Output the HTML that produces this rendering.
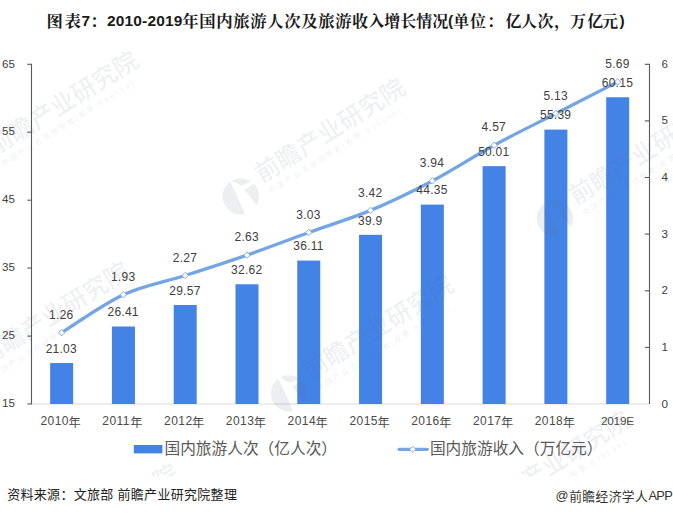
<!DOCTYPE html>
<html lang="zh-CN">
<head>
<meta charset="utf-8">
<title>图表7：2010-2019年国内旅游人次及旅游收入增长情况</title>
<style>
html,body{margin:0;padding:0;background:#fff;}
body{width:673px;height:516px;position:relative;overflow:hidden;font-family:"Liberation Sans",sans-serif;}
#chart{position:absolute;left:0;top:0;width:673px;height:516px;overflow:hidden;background:#fff;}
#chart svg{position:absolute;left:0;top:0;}
#chart span{position:absolute;white-space:nowrap;font-family:"Liberation Sans",sans-serif;}
.ax{font-size:11.6px;line-height:15px;color:#404040;}
.dl{font-size:12px;line-height:14px;color:#404040;width:60px;text-align:center;letter-spacing:0.27px;text-indent:0.27px;}
.xl{font-size:12px;line-height:14px;color:#4a4a4a;}
.ft{font-size:12.8px;line-height:15px;color:#333;}
.tt{font-size:15.5px;line-height:18px;font-weight:bold;color:#1a1a1a;}
svg text{font-family:"Liberation Sans","Noto Sans CJK SC",sans-serif;}
svg text.ttl{font-family:"Liberation Serif","Noto Serif CJK SC",serif;font-weight:bold;}
</style>
</head>
<body>
<div id="chart">
<svg width="673" height="516" viewBox="0 0 673 516">
<defs><g id="wmt"><text x="24.8" y="0" font-size="24.5" font-weight="500">前瞻产业研究院</text><text x="26.5" y="13.8" font-size="7.6" letter-spacing="2">中国产业咨询领导者(股票:839599)</text></g><g id="wml"><g clip-path="url(#lgc)"><path d="M-20 -20L-12 -20L-10.9 -15.1L-3.8 -1L4.2 18.1L4.2 20L-20 20Z"/><path d="M-9.6 -20L-9.6 -16.2L0.9 -10.6L11 -15.4L11 -20Z"/><path d="M3.6 -6.7L12.6 -12.7L20 -12.7L20 9L15.8 8.6Z"/></g></g><clipPath id="lgc"><circle cx="0" cy="0" r="18.2"/></clipPath><clipPath id="wmclip"><rect x="0" y="40" width="673" height="436.5"/></clipPath></defs>
<g id="plot">
<line x1="31.5" y1="404.0" x2="649.5" y2="404.0" stroke="#D9D9D9" stroke-width="1"/>
<rect x="50.15" y="363.03" width="23.00" height="40.97" fill="#4383E6"/>
<rect x="111.93" y="326.48" width="23.00" height="77.52" fill="#4383E6"/>
<rect x="173.71" y="305.01" width="23.00" height="98.99" fill="#4383E6"/>
<rect x="235.49" y="284.29" width="23.00" height="119.71" fill="#4383E6"/>
<rect x="297.27" y="260.58" width="23.00" height="143.42" fill="#4383E6"/>
<rect x="359.05" y="234.83" width="23.00" height="169.17" fill="#4383E6"/>
<rect x="420.83" y="204.60" width="23.00" height="199.40" fill="#4383E6"/>
<rect x="482.61" y="166.14" width="23.00" height="237.86" fill="#4383E6"/>
<rect x="544.39" y="129.59" width="23.00" height="274.41" fill="#4383E6"/>
<rect x="606.17" y="97.25" width="23.00" height="306.75" fill="#4383E6"/>
<path d="M31.5 64.3V404.0" stroke="#595959" stroke-width="1.1" fill="none"/>
<path d="M649.5 64.3V404.0" stroke="#595959" stroke-width="1.1" fill="none"/>
<path d="M27.3 64.3H32.0" stroke="#595959" stroke-width="1.1"/>
<path d="M27.3 132.2H32.0" stroke="#595959" stroke-width="1.1"/>
<path d="M27.3 200.2H32.0" stroke="#595959" stroke-width="1.1"/>
<path d="M27.3 268.1H32.0" stroke="#595959" stroke-width="1.1"/>
<path d="M27.3 336.1H32.0" stroke="#595959" stroke-width="1.1"/>
<path d="M27.3 404.0H32.0" stroke="#595959" stroke-width="1.1"/>
<path d="M644.8 64.3H650.0" stroke="#595959" stroke-width="1.1"/>
<path d="M644.8 120.9H650.0" stroke="#595959" stroke-width="1.1"/>
<path d="M644.8 177.5H650.0" stroke="#595959" stroke-width="1.1"/>
<path d="M644.8 234.1H650.0" stroke="#595959" stroke-width="1.1"/>
<path d="M644.8 290.8H650.0" stroke="#595959" stroke-width="1.1"/>
<path d="M644.8 347.4H650.0" stroke="#595959" stroke-width="1.1"/>
<path d="M61.65 332.66C71.95 326.34 102.84 304.26 123.43 294.73C144.02 285.20 164.62 282.09 185.21 275.48C205.80 268.87 226.40 262.27 246.99 255.10C267.58 247.93 288.18 239.91 308.77 232.45C329.36 225.00 349.96 218.96 370.55 210.37C391.14 201.78 411.74 191.78 432.33 180.93C452.92 170.08 473.52 156.49 494.11 145.26C514.70 134.03 535.30 124.12 555.89 113.56C576.48 102.99 607.37 87.14 617.67 81.85" stroke="#74A6E4" stroke-width="3.3" fill="none" stroke-linecap="round" stroke-linejoin="round"/>
<path d="M61.65 329.46L64.85 332.66L61.65 335.86L58.45 332.66Z" fill="#fff" stroke="#74A6E4" stroke-width="0.9"/>
<path d="M123.43 291.53L126.63 294.73L123.43 297.93L120.23 294.73Z" fill="#fff" stroke="#74A6E4" stroke-width="0.9"/>
<path d="M185.21 272.28L188.41 275.48L185.21 278.68L182.01 275.48Z" fill="#fff" stroke="#74A6E4" stroke-width="0.9"/>
<path d="M246.99 251.90L250.19 255.10L246.99 258.30L243.79 255.10Z" fill="#fff" stroke="#74A6E4" stroke-width="0.9"/>
<path d="M308.77 229.25L311.97 232.45L308.77 235.65L305.57 232.45Z" fill="#fff" stroke="#74A6E4" stroke-width="0.9"/>
<path d="M370.55 207.17L373.75 210.37L370.55 213.57L367.35 210.37Z" fill="#fff" stroke="#74A6E4" stroke-width="0.9"/>
<path d="M432.33 177.73L435.53 180.93L432.33 184.13L429.13 180.93Z" fill="#fff" stroke="#74A6E4" stroke-width="0.9"/>
<path d="M494.11 142.06L497.31 145.26L494.11 148.46L490.91 145.26Z" fill="#fff" stroke="#74A6E4" stroke-width="0.9"/>
<path d="M555.89 110.36L559.09 113.56L555.89 116.76L552.69 113.56Z" fill="#fff" stroke="#74A6E4" stroke-width="0.9"/>
<path d="M617.67 78.65L620.87 81.85L617.67 85.05L614.47 81.85Z" fill="#fff" stroke="#74A6E4" stroke-width="0.9"/>
<rect x="133.8" y="445" width="28.6" height="8.4" fill="#4383E6"/>
<path d="M399.1 449.3H427.3" stroke="#74A6E4" stroke-width="3.2" stroke-linecap="round"/>
<path d="M412.70 446.10L415.90 449.30L412.70 452.50L409.50 449.30Z" fill="#fff" stroke="#74A6E4" stroke-width="0.9"/>
</g>
<g id="cjk" fill="#404040">
<text x="68.50" y="426.6" font-size="12.2" fill="#4a4a4a">年</text>
<text x="130.28" y="426.6" font-size="12.2" fill="#4a4a4a">年</text>
<text x="192.06" y="426.6" font-size="12.2" fill="#4a4a4a">年</text>
<text x="253.84" y="426.6" font-size="12.2" fill="#4a4a4a">年</text>
<text x="315.62" y="426.6" font-size="12.2" fill="#4a4a4a">年</text>
<text x="377.40" y="426.6" font-size="12.2" fill="#4a4a4a">年</text>
<text x="439.18" y="426.6" font-size="12.2" fill="#4a4a4a">年</text>
<text x="500.96" y="426.6" font-size="12.2" fill="#4a4a4a">年</text>
<text x="562.74" y="426.6" font-size="12.2" fill="#4a4a4a">年</text>
<text x="164.5" y="454.4" font-size="15.7" fill="#595959">国内旅游人次（亿人次）</text>
<text x="429.9" y="454.4" font-size="15.7" fill="#595959">国内旅游收入（万亿元）</text>
<text x="7.2" y="499.4" font-size="13" letter-spacing="0.3" fill="#222">资料来源：文旅部 前瞻产业研究院整理</text>
<text x="569.2" y="500.6" font-size="12.8" letter-spacing="0.35" fill="#333">前瞻经济学人</text>
<text class="ttl" x="46.6 64.6" y="26.5" font-size="16.4" fill="#1a1a1a">图表</text>
<text class="ttl" x="90.2" y="26.5" font-size="16" fill="#1a1a1a">：</text>
<text class="ttl" x="182.3 199.3 216.3 233.3 250.3 267.3 284.3 301.3 318.3 335.3" y="26.5" font-size="16.4" fill="#1a1a1a">年国内旅游人次及旅游</text>
<text class="ttl" x="352.2 368.2 384.2 400.2 416.2 432.2" y="26.5" font-size="16" fill="#1a1a1a">收入增长情况</text>
<text class="ttl" x="453.2 470" y="26.5" font-size="16" fill="#1a1a1a">单位</text>
<text class="ttl" x="486.9" y="26.5" font-size="16" fill="#1a1a1a">：</text>
<text class="ttl" x="505.4 520.9 537.6 554.3" y="26.5" font-size="16" fill="#1a1a1a">亿人次，</text>
<text class="ttl" x="570.1 587.2 602.1" y="26.5" font-size="16" fill="#1a1a1a">万亿元</text>
</g>
<g id="wm" fill="rgba(86,104,140,0.115)" clip-path="url(#wmclip)">
<use href="#wmt" transform="translate(-26.2 169.0) rotate(-32)"/><use href="#wml" transform="translate(-26.2 169.0)"/>
<use href="#wmt" transform="translate(240.8 196.4) rotate(-32)"/><use href="#wml" transform="translate(240.8 196.4)"/>
<use href="#wmt" transform="translate(554.9 218.3) rotate(-32)"/><use href="#wml" transform="translate(554.9 218.3)"/>
<use href="#wmt" transform="translate(-35.2 379.7) rotate(-32)"/><use href="#wml" transform="translate(-35.2 379.7)"/>
<use href="#wmt" transform="translate(289.0 393.5) rotate(-32)"/><use href="#wml" transform="translate(289.0 393.5)"/>
<use href="#wmt" transform="translate(465.5 528.5) rotate(-32)"/><use href="#wml" transform="translate(465.5 528.5)"/>
<use href="#wmt" transform="translate(14.2 581.8) rotate(-32)"/><use href="#wml" transform="translate(14.2 581.8)"/>
</g>
</svg>
<span class="ax" style="left:0;width:14.9px;text-align:right;top:55.5px">65</span>
<span class="ax" style="left:0;width:14.9px;text-align:right;top:123.4px">55</span>
<span class="ax" style="left:0;width:14.9px;text-align:right;top:191.4px">45</span>
<span class="ax" style="left:0;width:14.9px;text-align:right;top:259.3px">35</span>
<span class="ax" style="left:0;width:14.9px;text-align:right;top:327.3px">25</span>
<span class="ax" style="left:0;width:14.9px;text-align:right;top:395.2px">15</span>
<span class="ax" style="left:661.4px;top:55.8px">6</span>
<span class="ax" style="left:661.4px;top:112.4px">5</span>
<span class="ax" style="left:661.4px;top:169.0px">4</span>
<span class="ax" style="left:661.4px;top:225.6px">3</span>
<span class="ax" style="left:661.4px;top:282.3px">2</span>
<span class="ax" style="left:661.4px;top:338.9px">1</span>
<span class="ax" style="left:661.4px;top:395.5px">0</span>
<span class="dl" style="left:31.2px;top:341.7px">21.03</span>
<span class="dl" style="left:93.0px;top:305.2px">26.41</span>
<span class="dl" style="left:154.8px;top:283.7px">29.57</span>
<span class="dl" style="left:216.6px;top:263.0px">32.62</span>
<span class="dl" style="left:278.4px;top:239.3px">36.11</span>
<span class="dl" style="left:340.1px;top:213.5px">39.9</span>
<span class="dl" style="left:401.9px;top:183.3px">44.35</span>
<span class="dl" style="left:463.7px;top:144.8px">50.01</span>
<span class="dl" style="left:525.5px;top:108.3px">55.39</span>
<span class="dl" style="left:587.3px;top:76.0px">60.15</span>
<span class="dl" style="left:31.2px;top:307.8px">1.26</span>
<span class="dl" style="left:93.0px;top:269.8px">1.93</span>
<span class="dl" style="left:154.8px;top:250.6px">2.27</span>
<span class="dl" style="left:216.6px;top:230.2px">2.63</span>
<span class="dl" style="left:278.4px;top:207.6px">3.03</span>
<span class="dl" style="left:340.1px;top:185.5px">3.42</span>
<span class="dl" style="left:401.9px;top:156.0px">3.94</span>
<span class="dl" style="left:463.7px;top:120.4px">4.57</span>
<span class="dl" style="left:525.5px;top:88.7px">5.13</span>
<span class="dl" style="left:587.3px;top:57.0px">5.69</span>
<span class="xl" style="left:40.5px;top:414.4px;letter-spacing:0.45px">2010</span>
<span class="xl" style="left:102.3px;top:414.4px;letter-spacing:0.45px">2011</span>
<span class="xl" style="left:164.1px;top:414.4px;letter-spacing:0.45px">2012</span>
<span class="xl" style="left:225.8px;top:414.4px;letter-spacing:0.45px">2013</span>
<span class="xl" style="left:287.6px;top:414.4px;letter-spacing:0.45px">2014</span>
<span class="xl" style="left:349.4px;top:414.4px;letter-spacing:0.45px">2015</span>
<span class="xl" style="left:411.2px;top:414.4px;letter-spacing:0.45px">2016</span>
<span class="xl" style="left:473.0px;top:414.4px;letter-spacing:0.45px">2017</span>
<span class="xl" style="left:534.7px;top:414.4px;letter-spacing:0.45px">2018</span>
<span class="xl" style="left:587.4px;top:413.5px;font-size:11.8px;letter-spacing:-0.25px;width:60px;text-align:center">2019E</span>
<span class="ft" style="left:555.6px;top:488.0px">@</span>
<span class="ft" style="left:648.5px;top:488.4px;letter-spacing:-0.7px">APP</span>
<span class="tt" style="left:81.6px;top:11.9px">7</span>
<span class="tt" style="left:107.0px;letter-spacing:0.16px;top:11.9px">2010-2019</span>
<span class="tt" style="left:447.9px;top:11.9px">(</span>
<span class="tt" style="left:619.4px;top:11.9px">)</span>
</div>
</body>
</html>
